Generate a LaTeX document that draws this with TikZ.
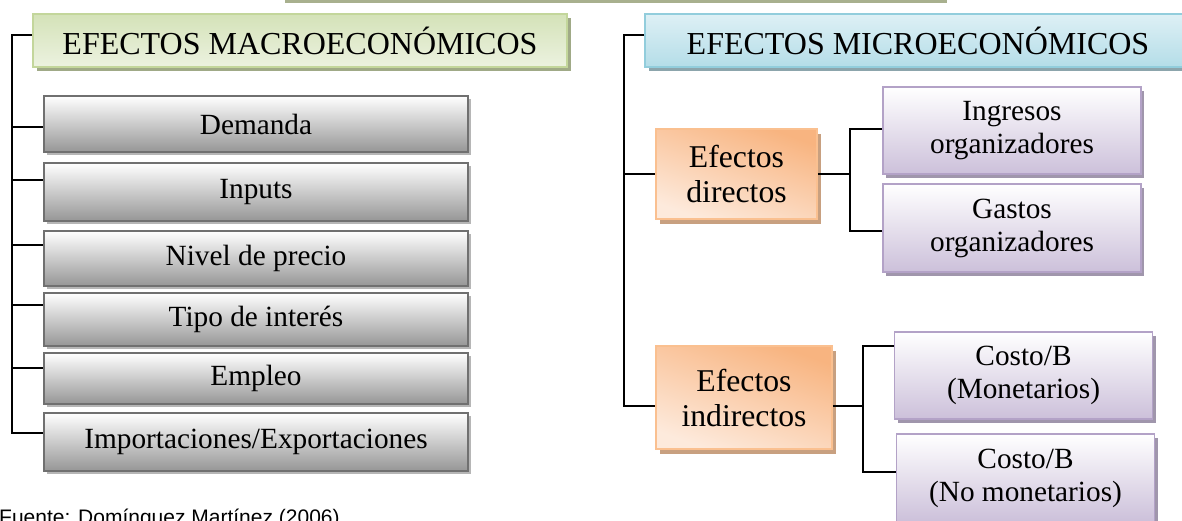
\documentclass[tikz,border=0pt]{standalone}
\usepackage{fontspec}
\setmainfont{Liberation Serif}
\newfontfamily\arialfont{Liberation Sans}
\usepackage{tikz}
\usetikzlibrary{shadows}
\definecolor{bordegris}{RGB}{112,112,112}
\definecolor{fondogris}{RGB}{150,150,150}
\definecolor{sombragris}{RGB}{182,182,182}
\definecolor{bordeverde}{RGB}{195,214,155}
\definecolor{verdeA}{RGB}{212,226,184}
\definecolor{verdeB}{RGB}{236,242,224}
\definecolor{sombraverde}{RGB}{160,170,135}
\definecolor{bordeazul}{RGB}{146,205,220}
\definecolor{azulA}{RGB}{222,240,245}
\definecolor{azulB}{RGB}{180,221,232}
\definecolor{sombraazul}{RGB}{140,165,172}
\definecolor{bordenaranja}{RGB}{250,192,144}
\definecolor{naranjaA}{RGB}{248,180,128}
\definecolor{naranjaB}{RGB}{253,234,220}
\definecolor{sombranaranja}{RGB}{200,160,128}
\definecolor{bordemorado}{RGB}{179,162,199}
\definecolor{moradoB}{RGB}{204,192,218}
\definecolor{sombramorado}{RGB}{160,150,172}
\definecolor{barra}{RGB}{168,176,142}
\tikzset{
  linea/.style={line width=1.6pt},
  grisbox/.style={rectangle, draw=bordegris, line width=1.8pt, top color=white, bottom color=fondogris,
    inner sep=0pt, minimum width=424pt,
    drop shadow={shadow xshift=3pt, shadow yshift=-3pt, fill=sombragris, opacity=1},
    font=\fontsize{29.3}{33}\selectfont},
  verdehead/.style={rectangle, draw=bordeverde, line width=1.8pt, top color=verdeA, bottom color=verdeB,
    inner sep=0pt, drop shadow={shadow xshift=4pt, shadow yshift=-4pt, fill=sombraverde, opacity=1},
    font=\fontsize{32}{36}\selectfont},
  azulhead/.style={rectangle, draw=bordeazul, line width=1.8pt, top color=azulA, bottom color=azulB,
    inner sep=0pt, drop shadow={shadow xshift=4pt, shadow yshift=-4pt, fill=sombraazul, opacity=1},
    font=\fontsize{32}{36}\selectfont},
  naranjabox/.style={rectangle, draw=bordenaranja, line width=1.8pt, top color=naranjaA, bottom color=naranjaB,
    shading angle=-20, inner sep=0pt, align=center,
    drop shadow={shadow xshift=4pt, shadow yshift=-5pt, fill=sombranaranja, opacity=1},
    font=\fontsize{31.7}{35}\selectfont},
  moradobox/.style={rectangle, draw=bordemorado, line width=1.8pt, top color=white, bottom color=moradoB,
    inner sep=0pt, minimum width=258pt, align=center,
    drop shadow={shadow xshift=3pt, shadow yshift=-4pt, fill=sombramorado, opacity=1},
    font=\fontsize{29.3}{33}\selectfont}
}
\begin{document}
\begin{tikzpicture}[x=1pt,y=-1pt]
\useasboundingbox (0,0) rectangle (1182,521);
\fill[barra] (285,-10) rectangle (947,3);

\node[verdehead, minimum width=534pt, minimum height=53pt] (N0) at (300,40.5) {EFECTOS MACROECONÓMICOS};
\node[grisbox, minimum height=56pt] (N1) at (256,124) {Demanda};
\node[grisbox, minimum height=58pt] (N2) at (256,192) {Inputs};
\node[grisbox, minimum height=55pt] (N3) at (256,258.5) {Nivel de precio};
\node[grisbox, minimum height=53pt] (N4) at (256,319.5) {Tipo de interés};
\node[grisbox, minimum height=51pt] (N5) at (256,378.5) {Empleo};
\node[grisbox, minimum height=58pt] (N6) at (256,442) {Importaciones/Exportaciones};

\coordinate (T0) at (12,35);
\coordinate (T1) at (12,127);
\coordinate (T2) at (12,180);
\coordinate (T3) at (12,245);
\coordinate (T4) at (12,305);
\coordinate (T5) at (12,368);
\coordinate (T6) at (12,433);
\draw[linea] (T0 -| N0.west) -- (T0) -- (T6) -- (T6 -| N6.west);
\draw[linea] (T1) -- (T1 -| N1.west);
\draw[linea] (T2) -- (T2 -| N2.west);
\draw[linea] (T3) -- (T3 -| N3.west);
\draw[linea] (T4) -- (T4 -| N4.west);
\draw[linea] (T5) -- (T5 -| N5.west);

\node[azulhead, minimum width=546pt, minimum height=53pt] (R0) at (918,40.5) {EFECTOS MICROECONÓMICOS};
\node[naranjabox, minimum width=161pt, minimum height=90pt] (R1) at (736.5,174) {Efectos\\directos};
\node[naranjabox, minimum width=176pt, minimum height=103pt] (R2) at (744,397.5) {Efectos\\indirectos};
\node[moradobox, minimum height=87pt] (R3) at (1012,130.5) {Ingresos\\organizadores};
\node[moradobox, minimum height=88pt] (R4) at (1012,228) {Gastos\\organizadores};
\node[moradobox, minimum height=87pt] (R5) at (1023.5,375.5) {Costo/B\\(Monetarios)};
\node[moradobox, minimum height=88pt] (R6) at (1025.5,478) {Costo/B\\(No monetarios)};

\coordinate (S0) at (624,35);
\coordinate (S2) at (624,406);
\draw[linea] (S0 -| R0.west) -- (S0) -- (S2) -- (S2 -| R2.west);
\draw[linea] (S0 |- R1.west) -- (R1.west);

\coordinate (U0) at (850,129);
\coordinate (U1) at (850,231);
\draw[linea] (R1.east) -- (R1.east -| U0);
\draw[linea] (U0 -| R3.west) -- (U0) -- (U1) -- (U1 -| R4.west);

\coordinate (V0) at (863,346);
\coordinate (V1) at (863,472);
\coordinate (V2) at (863,406);
\draw[linea] (V2 -| R2.east) -- (V2);
\draw[linea] (V0 -| R5.west) -- (V0) -- (V1) -- (V1 -| R6.west);

\node[anchor=base west, inner sep=0pt, font=\arialfont\fontsize{21}{24}\selectfont] (F0) at (-1,524) {Fuente: Domínguez Martínez (2006)};
\end{tikzpicture}
\end{document}
